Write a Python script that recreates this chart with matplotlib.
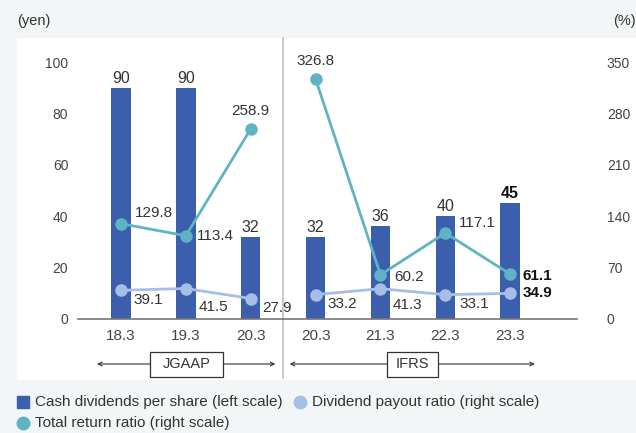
import numpy as np
import matplotlib
matplotlib.use('Agg')
import matplotlib.pyplot as plt
from matplotlib.patches import Rectangle
from matplotlib.lines import Line2D
import matplotlib.transforms as mtransforms

plt.rcParams['font.family'] = ['Liberation Sans', 'DejaVu Sans']

# data
years = ['18.3', '19.3', '20.3', '20.3', '21.3', '22.3', '23.3']
dividends = [90, 90, 32, 32, 36, 40, 45]
total_return_jgaap = [129.8, 113.4, 258.9]
total_return_ifrs = [326.8, 60.2, 117.1, 61.1]
payout_jgaap = [39.1, 41.5, 27.9]
payout_ifrs = [33.2, 41.3, 33.1, 34.9]

bar_color = '#3b5fad'
tr_color = '#60b3c4'
po_color = '#a6bfe6'
txt = '#333333'

fig = plt.figure(figsize=(6.36, 4.33), dpi=100, facecolor='#f3f6f7')
fig.patches.append(Rectangle((17 / 636, 1 - 380 / 433), 1, (380 - 38) / 433,
                             transform=fig.transFigure, facecolor='white',
                             edgecolor='none', zorder=-5))

ax = fig.add_axes([78 / 636, 114 / 433, 499 / 636, 257 / 433])
ax.patch.set_alpha(0)
x = np.arange(len(years))
ax.bar(x, dividends, width=0.30, color=bar_color, zorder=2)
ax.set_xlim(-0.663, 7.03)
ax.set_ylim(0, 100)
ax.set_yticks([0, 20, 40, 60, 80, 100])
ax.set_xticks(x)
ax.set_xticklabels(years)
for s in ['top', 'right', 'left']:
    ax.spines[s].set_visible(False)
ax.spines['bottom'].set_color('#777777')
ax.spines['bottom'].set_linewidth(1.2)
ax.tick_params(axis='y', length=0, pad=7, labelsize=10, labelcolor='#444444')
ax.tick_params(axis='x', length=0, pad=7, labelsize=11, labelcolor='#444444')

for i, v in enumerate(dividends):
    bold = i == len(dividends) - 1
    ax.annotate(str(v), (x[i], v), xytext=(0, 1.5), textcoords='offset points',
                ha='center', va='bottom', fontsize=11.5, color='#111111' if bold else txt,
                fontweight='bold' if bold else 'normal')

ax2 = ax.twinx()
ax2.set_ylim(0, 350)
ax2.set_yticks([0, 70, 140, 210, 280, 350])
for s in ax2.spines.values():
    s.set_visible(False)
ax2.tick_params(axis='y', length=0, pad=21.5, labelsize=10, labelcolor='#444444')

ax2.plot(x[:3], payout_jgaap, color=po_color, lw=2, marker='o', ms=8, zorder=3)
ax2.plot(x[3:], payout_ifrs, color=po_color, lw=2, marker='o', ms=8, zorder=3)
ax2.plot(x[:3], total_return_jgaap, color=tr_color, lw=2, marker='o', ms=8, zorder=4)
ax2.plot(x[3:], total_return_ifrs, color=tr_color, lw=2, marker='o', ms=8, zorder=4)

def lab(xi, v, dx, dy, ha='left', va='center', bold=False):
    ax2.annotate(f'{v:.1f}', (xi, v), xytext=(dx, dy), textcoords='offset points',
                 ha=ha, va=va, fontsize=11, color='#111111' if bold else txt,
                 fontweight='bold' if bold else 'normal', zorder=6)

# total return labels
lab(0, total_return_jgaap[0], 10, 8)
lab(1, total_return_jgaap[1], 8, 0)
lab(2, total_return_jgaap[2], 0, 8, ha='center', va='bottom')
lab(3, total_return_ifrs[0], 0, 8, ha='center', va='bottom')
lab(4, total_return_ifrs[1], 10, -1.5)
lab(5, total_return_ifrs[2], 10, 7)
lab(6, total_return_ifrs[3], 9, -1, bold=True)
# payout labels
lab(0, payout_jgaap[0], 9, -7)
lab(1, payout_jgaap[1], 9, -13)
lab(2, payout_jgaap[2], 8, -6.5)
lab(3, payout_ifrs[0], 8.5, -7)
lab(4, payout_ifrs[1], 9, -11.5)
lab(5, payout_ifrs[2], 10.5, -7)
lab(6, payout_ifrs[3], 9, 0, bold=True)

# divider between JGAAP and IFRS
bt = mtransforms.blended_transform_factory(ax.transData, fig.transFigure)
fig.lines.append(Line2D([2.5, 2.5], [1 - 38 / 433, 1 - 378 / 433], transform=bt,
                        color='#c0c0c0', lw=1.2, zorder=-1))

# accounting standard brackets
ybr = 1 - 364 / 433
box_h = 25 / 433
for (x0, x1, b0, b1, name) in [(-0.37, 2.38, 0.447, 1.573, 'JGAAP'),
                               (2.6, 6.38, 4.10, 4.89, 'IFRS')]:
    ax.annotate('', xy=(x0, ybr), xytext=(x1, ybr), xycoords=bt, textcoords=bt,
                arrowprops=dict(arrowstyle='<->', color='#333333', lw=0.8,
                                shrinkA=0, shrinkB=0, mutation_scale=7))
    fig.patches.append(Rectangle((b0, ybr - box_h / 2), b1 - b0, box_h, transform=bt,
                                 facecolor='white', edgecolor='#333333', lw=0.9, zorder=4))
    fig.text((b0 + b1) / 2, ybr, name, transform=bt, ha='center', va='center',
             fontsize=10.5, color=txt, zorder=5)

# units
fig.text(17 / 636, 1 - 21 / 433, '(yen)', fontsize=10.5, color=txt, va='center', ha='left')
fig.text(1.0, 1 - 21 / 433, '(%)', fontsize=10.5, color=txt, va='center', ha='right')

# legend
fig.lines.append(Line2D([23 / 636], [1 - 402 / 433], marker='s', ms=9, color=bar_color,
                        transform=fig.transFigure, lw=0))
fig.text(35 / 636, 1 - 402 / 433, 'Cash dividends per share (left scale)', fontsize=11,
         color=txt, va='center')
fig.lines.append(Line2D([300 / 636], [1 - 402 / 433], marker='o', ms=9, color=po_color,
                        transform=fig.transFigure, lw=0))
fig.text(312 / 636, 1 - 402 / 433, 'Dividend payout ratio (right scale)', fontsize=11,
         color=txt, va='center')
fig.lines.append(Line2D([23 / 636], [1 - 423 / 433], marker='o', ms=9, color=tr_color,
                        transform=fig.transFigure, lw=0))
fig.text(35 / 636, 1 - 423 / 433, 'Total return ratio (right scale)', fontsize=11,
         color=txt, va='center')

fig.savefig('out.png', dpi=100, facecolor=fig.get_facecolor())
